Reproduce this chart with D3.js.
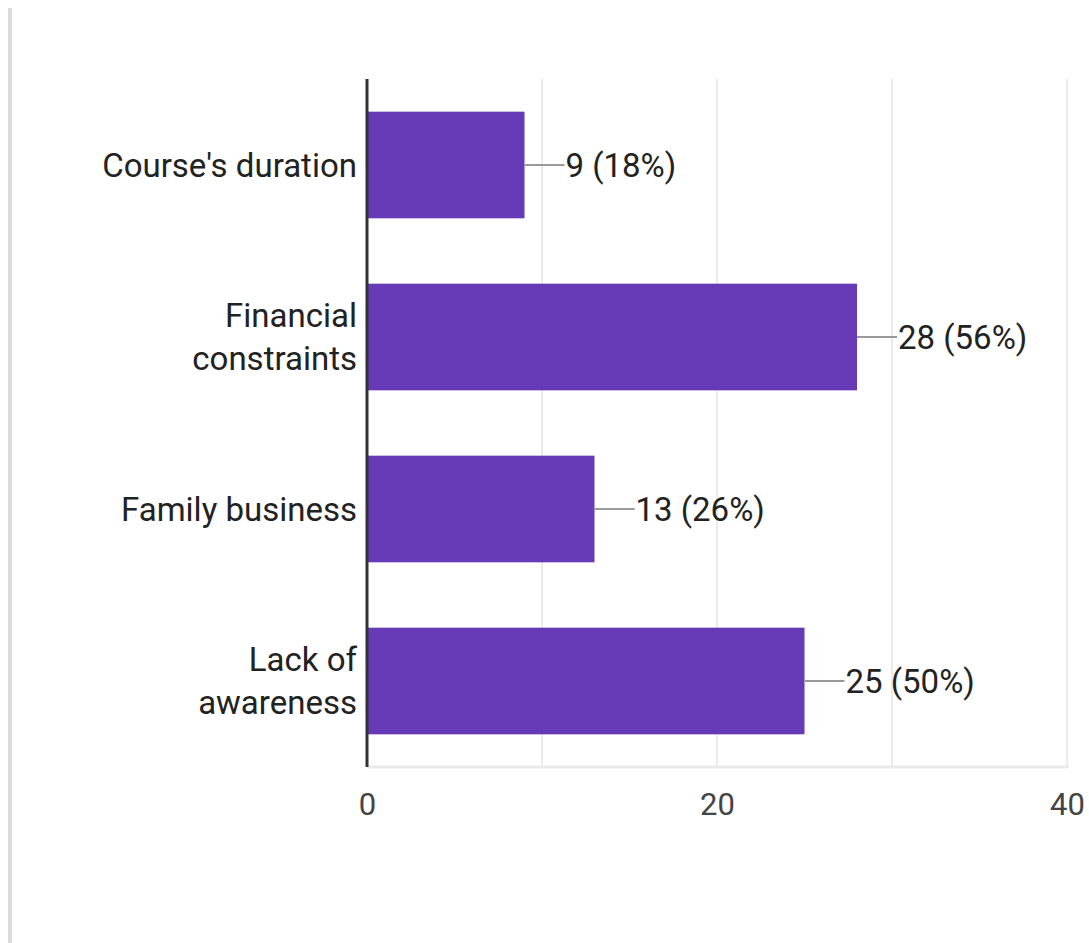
<!DOCTYPE html>
<html>
<head>
<meta charset="utf-8">
<script src="https://cdn.jsdelivr.net/npm/d3@7"></script>
<style>
  body { margin: 0; background: #fff; }
  svg { display: block; font-family: Roboto, "Noto Sans", sans-serif; }
</style>
</head>
<body>
<script>
// chart data
var categories = ["Course's duration", "Financial constraints", "Family business", "Lack of awareness"];
var categoryLines = [["Course's duration"], ["Financial", "constraints"], ["Family business"], ["Lack of", "awareness"]];
var counts = [9, 28, 13, 25];
var percents = ["18%", "56%", "26%", "50%"];
var xTicks = [0, 20, 40];
var gridTicks = [0, 10, 20, 30, 40];

var outerWidth = 1089;
var outerHeight = 943;
var margin = { left: 367, top: 79, right: 22, bottom: 176 };
var innerWidth = outerWidth - margin.left - margin.right;
var innerHeight = outerHeight - margin.top - margin.bottom;

var svg = d3.select("body").append("svg")
    .attr("width", outerWidth)
    .attr("height", outerHeight);

// card border on the left
svg.append("rect")
    .attr("x", 8).attr("y", 8)
    .attr("width", 4).attr("height", outerHeight - 8)
    .attr("fill", "#dadce0");

var g = svg.append("g")
    .attr("transform", "translate(" + margin.left + "," + margin.top + ")");

var xScale = d3.scaleLinear().domain([0, 40]).range([0, 700]);
var yScale = d3.scaleBand().domain(categories).range([0, innerHeight]).paddingInner(0.38).paddingOuter(0.19);

// gridlines
g.selectAll(".grid")
    .data(gridTicks)
    .enter().append("line")
    .attr("class", "grid")
    .attr("x1", function(d) { return xScale(d); })
    .attr("x2", function(d) { return xScale(d); })
    .attr("y1", 0)
    .attr("y2", innerHeight)
    .attr("stroke", "#ebebeb")
    .attr("stroke-width", 2);

g.append("line")
    .attr("x1", 0).attr("x2", xScale(40) + 2)
    .attr("y1", innerHeight).attr("y2", innerHeight)
    .attr("stroke", "#ebebeb")
    .attr("stroke-width", 3);

// x axis tick labels
var xAxis = d3.axisBottom(xScale).tickValues(xTicks).tickSize(0).tickPadding(26);
var xAxisG = g.append("g")
    .attr("transform", "translate(0," + innerHeight + ")")
    .call(xAxis);
xAxisG.select(".domain").remove();
xAxisG.selectAll("text")
    .attr("font-size", 31)
    .attr("font-family", "Roboto, sans-serif")
    .attr("fill", "#444");

// bars
g.selectAll(".bar")
    .data(counts)
    .enter().append("rect")
    .attr("class", "bar")
    .attr("x", 0)
    .attr("y", function(d, i) { return yScale(categories[i]); })
    .attr("width", function(d) { return xScale(d); })
    .attr("height", yScale.bandwidth())
    .attr("fill", "#673ab7");

// leader lines and value labels
g.selectAll(".leader")
    .data(counts)
    .enter().append("line")
    .attr("class", "leader")
    .attr("x1", function(d) { return xScale(d); })
    .attr("x2", function(d) { return xScale(d) + 40; })
    .attr("y1", function(d, i) { return yScale(categories[i]) + yScale.bandwidth() / 2; })
    .attr("y2", function(d, i) { return yScale(categories[i]) + yScale.bandwidth() / 2; })
    .attr("stroke", "#999")
    .attr("stroke-width", 2);

g.selectAll(".value")
    .data(counts)
    .enter().append("text")
    .attr("class", "value")
    .attr("x", function(d) { return xScale(d) + 41; })
    .attr("y", function(d, i) { return yScale(categories[i]) + yScale.bandwidth() / 2; })
    .attr("dy", "0.35em")
    .attr("font-size", 33)
    .attr("fill", "#222")
    .text(function(d, i) { return d + " (" + percents[i] + ")"; });

// category labels
var labels = g.selectAll(".cat")
    .data(categoryLines)
    .enter().append("text")
    .attr("class", "cat")
    .attr("text-anchor", "end")
    .attr("font-size", 33)
    .attr("fill", "#222")
    .attr("transform", function(d, i) {
        return "translate(-10," + (yScale(categories[i]) + yScale.bandwidth() / 2) + ")";
    });

labels.selectAll("tspan")
    .data(function(d) { return d.map(function(t, j) { return { t: t, j: j, n: d.length }; }); })
    .enter().append("tspan")
    .attr("x", 0)
    .attr("y", function(d) { return (d.j - (d.n - 1) / 2) * 43; })
    .attr("dy", "0.35em")
    .text(function(d) { return d.t; });

// y axis line
g.append("line")
    .attr("x1", 0).attr("x2", 0)
    .attr("y1", 0).attr("y2", innerHeight)
    .attr("stroke", "#333")
    .attr("stroke-width", 3);
</script>
</body>
</html>
